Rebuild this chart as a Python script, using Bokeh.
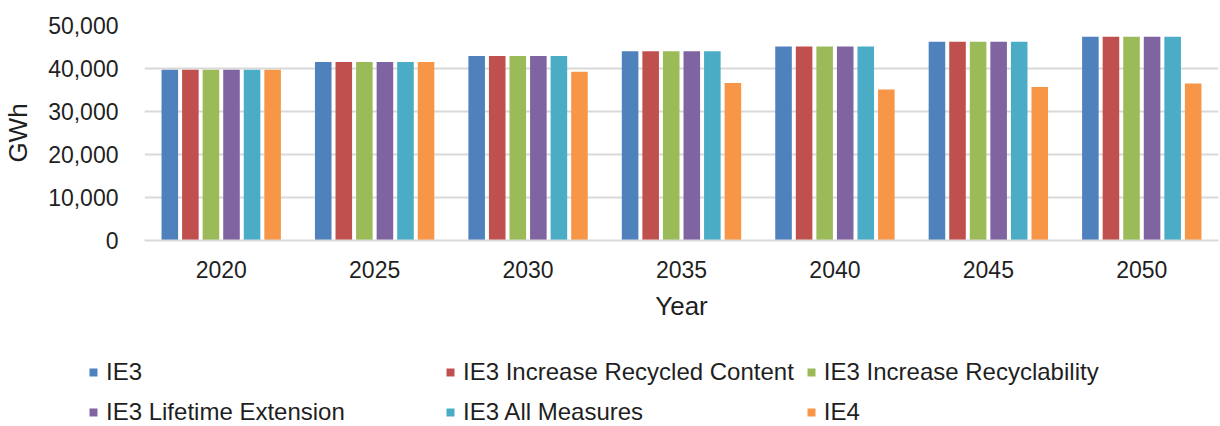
from bokeh.plotting import figure
from bokeh.models import (ColumnDataSource, FactorRange, FixedTicker, NumeralTickFormatter,
                          Legend, LegendItem, Range1d)
from bokeh.transform import dodge
from bokeh.layouts import column, row
from bokeh.embed import file_html
from bokeh.resources import INLINE

years = ["2020", "2025", "2030", "2035", "2040", "2045", "2050"]
series_names = ["IE3", "IE3 Increase Recycled Content", "IE3 Increase Recyclability",
                "IE3 Lifetime Extension", "IE3 All Measures", "IE4"]
ie3 = [39700, 41500, 42900, 44000, 45100, 46200, 47400]
ie3_recycled_content = [39700, 41500, 42900, 44000, 45100, 46200, 47400]
ie3_recyclability = [39700, 41500, 42900, 44000, 45100, 46200, 47400]
ie3_lifetime = [39700, 41500, 42900, 44000, 45100, 46200, 47400]
ie3_all = [39700, 41500, 42900, 44000, 45100, 46200, 47400]
ie4 = [39700, 41500, 39250, 36600, 35100, 35700, 36500]
y_ticks = [0, 10000, 20000, 30000, 40000, 50000]

colors = ["#4F81BD", "#C0504D", "#9BBB59", "#8064A2", "#4BACC6", "#F79646"]
keys = ["s0", "s1", "s2", "s3", "s4", "s5"]
values = [ie3, ie3_recycled_content, ie3_recyclability, ie3_lifetime, ie3_all, ie4]

data = {"year": years}
for k, v in zip(keys, values):
    data[k] = v
source = ColumnDataSource(data)

FONT = "Liberation Sans"
TXT = "#1f1f1f"

p = figure(x_range=FactorRange(*years, range_padding=0), y_range=Range1d(0, 50000),
           width=1220, height=330, output_backend="svg", toolbar_location=None,
           min_border_left=140, min_border_right=2, min_border_top=25, min_border_bottom=90)
p.outline_line_color = None

pitch = 0.134
for i, (k, c) in enumerate(zip(keys, colors)):
    p.vbar(x=dodge("year", (i - 2.5) * pitch, range=p.x_range), top=k, width=0.108,
           source=source, fill_color=c, line_color=None)

p.xgrid.grid_line_color = None
p.ygrid.grid_line_color = "#d9d9d9"
p.ygrid.grid_line_width = 2
p.yaxis.ticker = FixedTicker(ticks=y_ticks)
p.yaxis.formatter = NumeralTickFormatter(format="0,0")
p.yaxis.axis_line_color = None
p.yaxis.major_tick_line_color = None
p.yaxis.minor_tick_line_color = None
p.yaxis.major_label_standoff = 20
p.yaxis.axis_label = "GWh"
p.yaxis.axis_label_standoff = 12

p.xaxis.axis_line_color = "#d9d9d9"
p.xaxis.axis_line_width = 2
p.xaxis.major_tick_line_color = None
p.xaxis.minor_tick_line_color = None
p.xaxis.major_label_standoff = 14
p.xaxis.axis_label = "Year"
p.xaxis.axis_label_standoff = 10

for ax in (p.xaxis, p.yaxis):
    ax.major_label_text_font = FONT
    ax.major_label_text_font_size = "23px"
    ax.major_label_text_color = TXT
    ax.axis_label_text_font = FONT
    ax.axis_label_text_font_size = "26px"
    ax.axis_label_text_font_style = "normal"
    ax.axis_label_text_color = TXT

# legend strip: proxy renderers (zero-width bars outside the visible y range)
pl = figure(x_range=FactorRange(*years), y_range=Range1d(-2, -1),
            width=1220, height=96, output_backend="svg", toolbar_location=None,
            x_axis_type=None, y_axis_type=None,
            min_border_left=88, min_border_top=28, min_border_right=0, min_border_bottom=0)
pl.outline_line_color = None
pl.grid.grid_line_color = None
items = []
for k, name, c in zip(keys, series_names, colors):
    r = pl.vbar(x="year", top=k, width=0, source=source, fill_color=c, line_color=None)
    items.append(LegendItem(label=name, renderers=[r]))
leg = Legend(items=items, location="top_left", ncols=3, orientation="horizontal",
             glyph_width=10, glyph_height=10, label_standoff=8, label_width=327,
             label_height=28, spacing=12, padding=0, margin=0,
             border_line_color=None, background_fill_alpha=0,
             label_text_font=FONT, label_text_font_size="24px", label_text_color=TXT)
pl.add_layout(leg, "center")

layout = column(p, row(pl), spacing=0)
open("out.html", "w").write(file_html(layout, INLINE))
